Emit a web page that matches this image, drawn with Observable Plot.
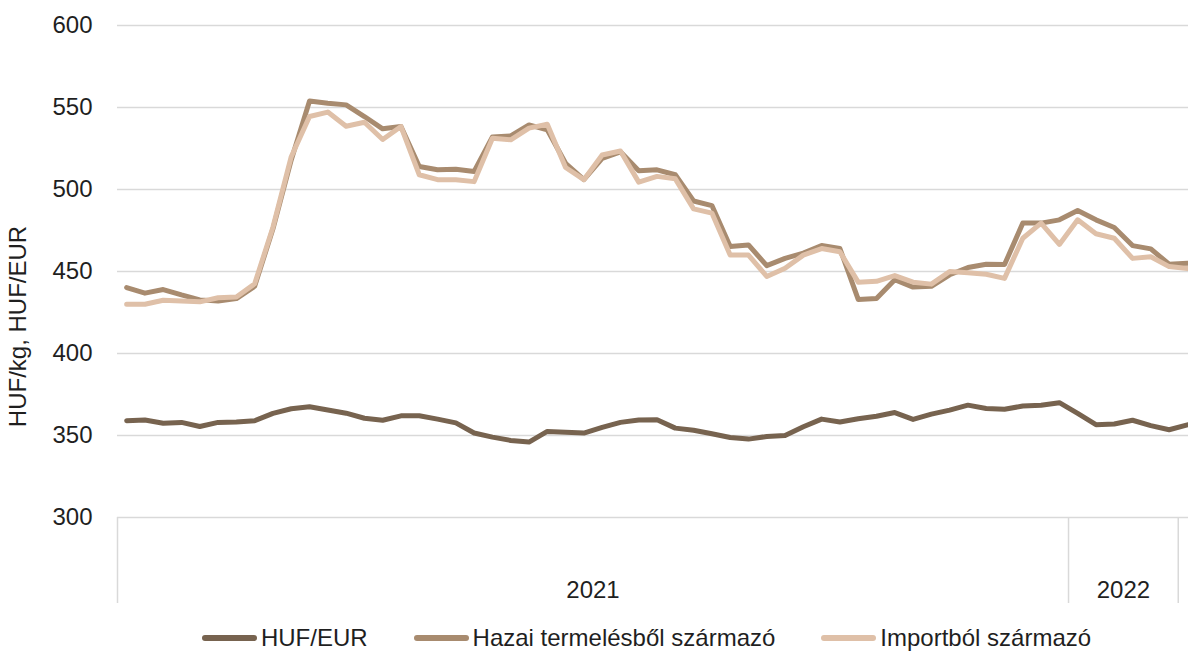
<!DOCTYPE html>
<html>
<head>
<meta charset="utf-8">
<script src="https://cdn.jsdelivr.net/npm/d3@7"></script>
<script src="https://cdn.jsdelivr.net/npm/@observablehq/plot@0.6"></script>
<style>
  html, body { margin: 0; padding: 0; background: #fff; overflow: hidden; }
  body { width: 1188px; height: 653px; font-family: "Liberation Sans", Arial, sans-serif; color: #1f1f1f; }
  #legend { display: flex; justify-content: center; align-items: center; padding-left: 105px; margin-top: 16px; line-height: 24px; font-size: 24px; }
  .item { display: flex; align-items: center; margin: 0 23px; white-space: nowrap; }
  .sw { width: 55px; height: 6px; border-radius: 3px; margin-right: 4px; }
</style>
</head>
<body>
<div id="chart"></div>
<div id="legend"></div>
<script>
// Category groups on the x axis (weeks per year shown in the axis group)
const yearLabels = ["2021", "2022"];
const yearWeeks = [52, 6];

// Series values (weekly), HUF/kg and HUF/EUR
const hufEur = [359, 359.5, 357.5, 358, 355.5, 358, 358.3, 359, 363.5, 366.3,
  367.5, 365.6, 363.6, 360.5, 359.3, 362, 362, 360, 357.7, 351.5,
  349, 347, 346, 352.5, 352, 351.5, 355, 358, 359.5, 359.6,
  354.5, 353.2, 351.1, 348.8, 347.8, 349.4, 350, 355.3, 360, 358.2,
  360.2, 361.7, 364, 359.8, 363, 365.5, 368.5, 366.5, 366, 368,
  368.5, 370, 363.5, 356.6, 357, 359.3, 356, 353.5, 356.5];

const hazai = [440.2, 436.8, 439, 435.7, 432.7, 432, 433.5, 441, 476, 518,
  554, 552.6, 551.6, 544.5, 537, 538.4, 514, 512, 512.4, 511,
  532, 532.7, 539.4, 536.4, 516, 506, 519, 523, 511.4, 512,
  509, 493, 490.2, 465.2, 466.2, 453.6, 458, 461.2, 465.8, 464,
  433, 433.5, 445, 440.5, 441, 448, 452.4, 454.4, 454.2, 479.5,
  479.5, 481.5, 487.2, 481.5, 476.8, 465.8, 463.8, 454.4, 455];

const importbol = [430, 430, 432.5, 432, 431.5, 434, 434.5, 442.5, 477, 520,
  544.5, 547.2, 538.6, 541, 530.5, 538.4, 509, 506, 506, 504.8,
  531.3, 530.3, 537.4, 539.8, 513.4, 506, 521, 523.5, 504.5, 508,
  506.5, 488.2, 485.6, 460, 460, 447, 452, 460, 464, 462,
  443.5, 444, 447.5, 443.5, 442.3, 450, 449.3, 448.3, 445.8, 470.3,
  479.5, 466.5, 481.5, 473, 470.3, 458, 459, 453, 451.8];

const seriesNames = ["HUF/EUR", "Hazai termelésből származó", "Importból származó"];
const seriesColors = ["#77634f", "#a88b6f", "#dfc0a8"];
const yTicks = [300, 350, 400, 450, 500, 550, 600];
const yLabel = "HUF/kg, HUF/EUR";

// Build table
const table = [];
[hufEur, hazai, importbol].forEach((arr, s) => {
  arr.forEach((v, i) => table.push({i, value: v, series: seriesNames[s]}));
});

// Group boundaries and midpoints (in index units)
const bounds = [-0.5];
yearWeeks.forEach(n => bounds.push(bounds[bounds.length - 1] + n));
const groups = yearLabels.map((label, k) => ({label, mid: (bounds[k] + bounds[k + 1]) / 2}));

const chart = Plot.plot({
  width: 1188,
  height: 610,
  marginLeft: 117,
  marginRight: 0,
  marginTop: 25,
  marginBottom: 93,
  style: {fontFamily: "'Liberation Sans', Arial, sans-serif", fontSize: "24px", color: "#1f1f1f", background: "#fff"},
  x: {type: "linear", domain: [-0.5, 58.06]},
  y: {domain: [300, 600]},
  marks: [
    Plot.ruleY(yTicks, {stroke: "#d9d9d9", strokeWidth: 1.5}),
    Plot.axisY({ticks: yTicks, tickSize: 0, tickPadding: 25, label: null}),
    Plot.axisX({ticks: bounds, tickSize: 86, tickFormat: () => "", stroke: "#d9d9d9", strokeWidth: 1.5, label: null}),
    Plot.text(groups, {x: "mid", text: "label", frameAnchor: "bottom", dy: 73, lineAnchor: "middle", fill: "currentColor"}),
    Plot.text([yLabel], {frameAnchor: "left", textAnchor: "middle", dx: -99, dy: 55, rotate: -90, fill: "currentColor"}),
    ...seriesNames.map((name, s) => Plot.line(table.filter(d => d.series === name), {
      x: "i", y: "value", stroke: seriesColors[s], strokeWidth: 5, strokeLinejoin: "round", strokeLinecap: "round"
    }))
  ]
});
document.getElementById("chart").appendChild(chart);

const legend = document.getElementById("legend");
seriesNames.forEach((name, s) => {
  const item = document.createElement("div");
  item.className = "item";
  const sw = document.createElement("div");
  sw.className = "sw";
  sw.style.background = seriesColors[s];
  const t = document.createElement("span");
  t.textContent = name;
  item.appendChild(sw);
  item.appendChild(t);
  legend.appendChild(item);
});
</script>
</body>
</html>
